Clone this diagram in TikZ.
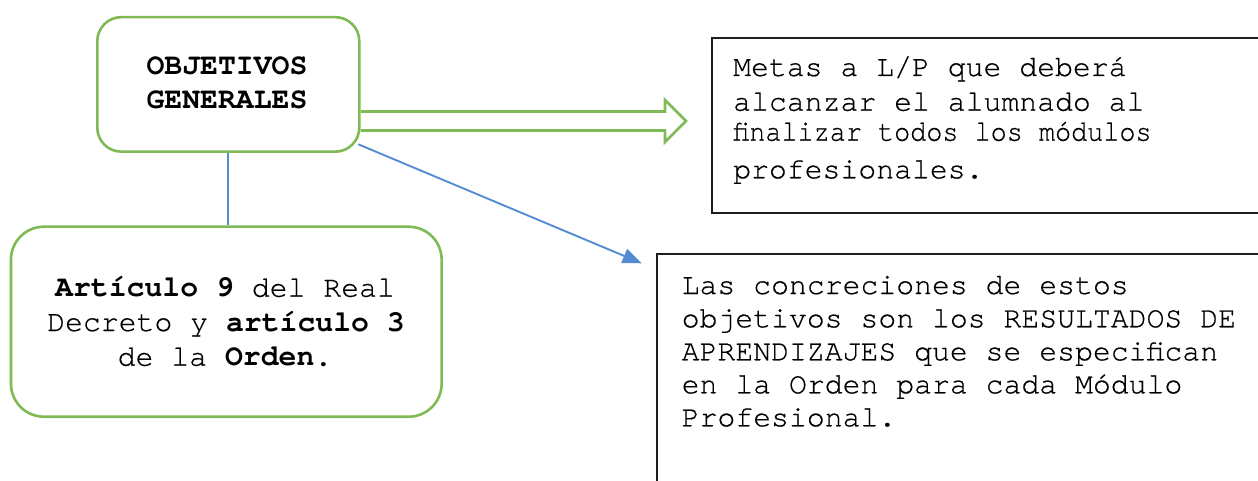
\documentclass[tikz,border=0pt]{standalone}
\usepackage{fontspec}
\setmainfont{texgyrecursor}[Extension=.otf, UprightFont=*-regular, BoldFont=*-bold, UprightFeatures={FakeBold=0.5}]
\usetikzlibrary{arrows.meta,calc}
\definecolor{boxgreen}{RGB}{128,186,84}
\definecolor{linkblue}{RGB}{84,140,212}
\definecolor{boxblack}{RGB}{30,30,30}
\begin{document}
\begin{tikzpicture}[x=1pt,y=-1pt,
  gbox/.style={draw=boxgreen, line width=2.6pt, fill=white, inner sep=0pt},
  kbox/.style={draw=boxblack, line width=2pt, fill=white},
  txt/.style={inner sep=0pt, font=\fontsize{29.8}{33}\selectfont},
  link/.style={draw=linkblue, line width=1.9pt},
  hollow/.style={draw=boxgreen, line width=2.6pt, line join=miter}]
\useasboundingbox (0,0) rectangle (1258,481);
\clip (0,0) rectangle (1258,481);
% boxes
\node[gbox, rounded corners=24pt, minimum width=262pt, minimum height=134.5pt] (A) at (228.3,84.4) {};
\node[gbox, rounded corners=33pt, minimum width=430.7pt, minimum height=190pt] (D) at (226.3,321.7) {};
\draw[kbox] (1275,38) -- (711.7,38) -- (711.7,213) -- (1275,213);
\coordinate (Bwest) at (711.7,125);
\draw[kbox] (1275,254) -- (656.7,254) -- (656.7,500);
\coordinate (Cwest) at (656.7,263.3);
% texts of A
\node[txt, anchor=base] (A1) at (227,75) {\bfseries OBJETIVOS};
\node[txt, anchor=base] (A2) at (227,108.3) {\bfseries GENERALES};
% texts of D
\node[txt, anchor=base] (D1) at (225,296.7) {\bfseries Artículo 9\mdseries{} del Real};
\node[txt, anchor=base] (D2) at (226,331) {Decreto y \bfseries artículo 3};
\node[txt, anchor=base] (D3) at (225,365.7) {de la \bfseries Orden\mdseries.};
% texts of B
\node[txt, anchor=base west] (B1) at (733,76) {Metas a L/P que deberá};
\node[txt, anchor=base west] (B2) at (733,110.7) {alcanzar el alumnado al};
\node[txt, anchor=base west] (B3) at (733,140.7) {\scalebox{0.9}[1]{finalizar todos los módulos}};
\node[txt, anchor=base west] (B4) at (733,178.3) {profesionales.};
% texts of C
\node[txt, anchor=base west] (C1) at (681.5,294) {Las concreciones de estos};
\node[txt, anchor=base west] (C2) at (681.5,327.3) {objetivos son los RESULTADOS DE};
\node[txt, anchor=base west] (C3) at (681.5,360.3) {APRENDIZAJES que se especifican};
\node[txt, anchor=base west] (C4) at (681.5,393.3) {en la Orden para cada Módulo};
\node[txt, anchor=base west] (C5) at (681.5,426.3) {Profesional.};
% connectors
\draw[link] (A.south) -- (A.south |- D.north);
\coordinate (blueStart) at (358.3,144.3);
\coordinate (blueTip) at (641.7,263.3);
\draw[link, -{Triangle[length=19pt,width=15pt]}] (blueStart) -- (blueTip);
\coordinate (tipB) at (686,121);
\draw[hollow] ($(A.east |- tipB)+(0,-9.5)$) -- (665,111.5) -- (665,100) -- (tipB)
  -- (665,142) -- (665,130.5) -- ($(A.east |- tipB)+(0,9.5)$);
\end{tikzpicture}
\end{document}
